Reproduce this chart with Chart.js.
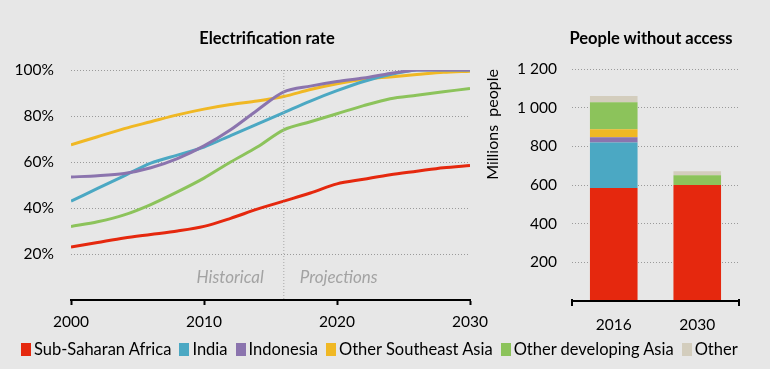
<!DOCTYPE html>
<html>
<head>
<meta charset="utf-8">
<script src="https://cdn.jsdelivr.net/npm/chart.js@4/dist/chart.umd.min.js"></script>
<style>
    body { margin: 0; background: #e7e7e7; font-family: Lato, sans-serif; }
    #wrap { position: relative; width: 770px; height: 369px; overflow: hidden; }
    canvas { position: absolute; top: 0; }
    .title { position: absolute; top: 28px; font-weight: bold; font-size: 16.5px; color: #000; text-align: center; }
    #legend { position: absolute; left: 21px; top: 339px; display: flex; font-size: 16.5px; color: #000; white-space: nowrap; }
    #legend span.item { display: flex; align-items: center; margin-right: 8px; }
    #legend span.box { display: inline-block; width: 10px; height: 13px; margin-right: 3px; }
</style>
</head>
<body>
<div id="wrap">
    <canvas id="rateChart" width="490" height="345" style="left:0"></canvas>
    <canvas id="accessChart" width="295" height="345" style="left:475px"></canvas>
    <div class="title" style="left:167px;width:200px">Electrification rate</div>
    <div class="title" style="left:551px;width:200px">People without access</div>
    <div id="legend"></div>
</div>
<script>
// Donnees
const years = [2000, 2002, 2004, 2006, 2008, 2010, 2012, 2014, 2016, 2018, 2020, 2022, 2024, 2026, 2028, 2030];
const ssaRate = [23, 25, 27, 28.5, 30, 32, 35.5, 39.5, 43, 46.5, 50.5, 52.5, 54.5, 56, 57.5, 58.5];
const indiaRate = [43, 48.5, 54, 59.5, 63, 66.5, 71.5, 76.5, 81.5, 86.5, 91, 95, 98, 100, 100, 100];
const indonesiaRate = [53.5, 54, 55, 57.5, 61.5, 67, 74, 82.5, 90.5, 93, 95, 96.5, 98.5, 100, 100, 100];
const oseaRate = [67.5, 71, 74.5, 77.5, 80.5, 83, 85, 86.5, 88.5, 91.5, 94, 96, 97, 98, 99, 99.5];
const odaRate = [32, 34, 37, 41.5, 47, 53, 60, 66.5, 74, 77.5, 81, 84.5, 87.5, 89, 90.5, 92];

const barYears = ['2016', '2030'];
const ssaPeople = [585, 600];
const indiaPeople = [235, 0];
const indonesiaPeople = [27, 0];
const oseaPeople = [41, 0];
const odaPeople = [140, 50];
const otherPeople = [32, 21];

const seriesNames = ['Sub-Saharan Africa', 'India', 'Indonesia', 'Other Southeast Asia', 'Other developing Asia', 'Other'];
const seriesColors = ['#e5280e', '#4ba8c3', '#8b74ae', '#f0b824', '#8cc35b', '#d3cdbd'];

const rateTicks = [20, 40, 60, 80, 100];
const yearTicks = [2000, 2010, 2020, 2030];
const peopleTicks = [200, 400, 600, 800, 1000, 1200];
const splitYear = 2016;

// Legende
const legend = document.getElementById('legend');
seriesNames.forEach((name, i) => {
    const item = document.createElement('span');
    item.className = 'item';
    item.innerHTML = '<span class="box" style="background:' + seriesColors[i] + '"></span>' + name;
    legend.appendChild(item);
});

const tickFont = { family: 'Lato', size: 15.5 };
const gridDash = { color: '#9a9a9a', lineWidth: 1 };

// Ligne verticale 2016 + textes
const splitPlugin = {
    id: 'split',
    afterDatasetsDraw(chart) {
        const { ctx, chartArea, scales } = chart;
        const x = scales.x.getPixelForValue(splitYear);
        ctx.save();
        ctx.strokeStyle = '#a8a8a8';
        ctx.setLineDash([1, 2]);
        ctx.beginPath();
        ctx.moveTo(x, chartArea.top);
        ctx.lineTo(x, chartArea.bottom);
        ctx.stroke();
        ctx.setLineDash([]);
        ctx.fillStyle = '#a3a3a3';
        ctx.font = 'italic 17px Lato';
        ctx.textBaseline = 'middle';
        ctx.textAlign = 'right';
        ctx.fillText('Historical', x - 20, 278);
        ctx.textAlign = 'left';
        ctx.fillText('Projections', x + 16, 278);
        ctx.restore();
    }
};

new Chart(document.getElementById('rateChart'), {
    type: 'line',
    data: {
        labels: years,
        datasets: seriesNames.slice(0, 5).map((name, i) => ({
            label: name,
            data: [ssaRate, indiaRate, indonesiaRate, oseaRate, odaRate][i].map((v, j) => ({ x: years[j], y: v })),
            borderColor: seriesColors[i],
            borderWidth: 3,
            pointRadius: 0,
            tension: 0.3,
            order: i === 2 ? 0 : i + 1
        }))
    },
    options: {
        responsive: false,
        animation: false,
        layout: { padding: { top: 70, right: 20, bottom: 0, left: 0 } },
        plugins: { legend: { display: false }, tooltip: { enabled: false } },
        scales: {
            x: {
                type: 'linear',
                min: 2000,
                max: 2030,
                afterFit: scale => { scale.height = 45; scale.paddingLeft = 0; scale.paddingRight = 0; },
                afterBuildTicks: scale => { scale.ticks = yearTicks.map(v => ({ value: v })); },
                ticks: { font: tickFont, color: '#000', padding: 8, callback: v => String(v) },
                grid: { drawOnChartArea: false, tickLength: 5, tickColor: '#000', tickWidth: 2 },
                border: { color: '#000', width: 2 }
            },
            y: {
                min: 0,
                max: 100,
                afterFit: scale => { scale.width = 71; },
                afterBuildTicks: scale => { scale.ticks = rateTicks.map(v => ({ value: v })); },
                ticks: { font: tickFont, color: '#000', padding: 17, callback: v => v + '%' },
                grid: { ...gridDash, drawTicks: false },
                border: { display: false, dash: [1, 2] }
            }
        }
    },
    plugins: [splitPlugin]
});

// Axe du bas avec petites marques aux extremites
const barAxisPlugin = {
    id: 'barAxis',
    afterDatasetsDraw(chart) {
        const { ctx, chartArea } = chart;
        ctx.save();
        ctx.strokeStyle = '#000';
        ctx.lineWidth = 2;
        ctx.beginPath();
        ctx.moveTo(chartArea.left, chartArea.bottom);
        ctx.lineTo(chartArea.right, chartArea.bottom);
        ctx.moveTo(chartArea.left, chartArea.bottom - 2);
        ctx.lineTo(chartArea.left, chartArea.bottom + 5);
        ctx.moveTo(chartArea.right, chartArea.bottom - 2);
        ctx.lineTo(chartArea.right, chartArea.bottom + 5);
        ctx.stroke();
        ctx.restore();
    }
};

new Chart(document.getElementById('accessChart'), {
    type: 'bar',
    data: {
        labels: barYears,
        datasets: [ssaPeople, indiaPeople, indonesiaPeople, oseaPeople, odaPeople, otherPeople].map((d, i) => ({
            label: seriesNames[i],
            data: d,
            backgroundColor: seriesColors[i],
            barPercentage: 0.57,
            categoryPercentage: 1
        }))
    },
    options: {
        responsive: false,
        animation: false,
        layout: { padding: { top: 69, right: 31, bottom: 0, left: 0 } },
        plugins: { legend: { display: false }, tooltip: { enabled: false } },
        scales: {
            x: {
                stacked: true,
                afterFit: scale => { scale.height = 44; },
                ticks: { font: tickFont, color: '#000', padding: 7 },
                grid: { display: false },
                border: { display: false }
            },
            y: {
                stacked: true,
                min: 0,
                max: 1200,
                afterFit: scale => { scale.width = 97; },
                afterBuildTicks: scale => { scale.ticks = peopleTicks.map(v => ({ value: v })); },
                ticks: { font: tickFont, color: '#000', padding: 15, callback: v => v >= 1000 ? '1 ' + String(v).slice(1) : String(v) },
                grid: { ...gridDash, drawTicks: false },
                border: { display: false, dash: [1, 2] },
                title: { display: true, text: 'Millions  people', align: 'end', font: { family: 'Lato', size: 16 }, color: '#000', padding: { top: 8, bottom: 0 } }
            }
        }
    },
    plugins: [barAxisPlugin]
});
</script>
</body>
</html>
